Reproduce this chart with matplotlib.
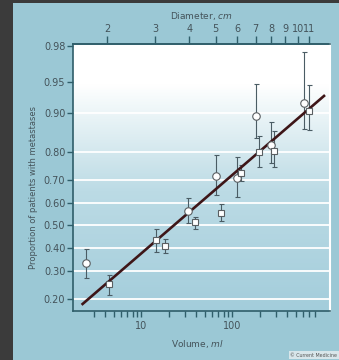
import numpy as np
import matplotlib
matplotlib.use("Agg")
import matplotlib.pyplot as plt
from matplotlib.ticker import FixedLocator, FixedFormatter, NullLocator, NullFormatter
from matplotlib.patches import Rectangle
from matplotlib.colors import LinearSegmentedColormap
from statistics import NormalDist
import math

# ---------------- data ----------------
circle_volume = [2.44, 32.7, 65.9, 111, 180, 263, 615]
circle_prop   = [0.333, 0.564, 0.714, 0.705, 0.895, 0.821, 0.920]
circle_lo     = [0.273, 0.510, 0.636, 0.626, 0.841, 0.761, 0.864]
circle_hi     = [0.393, 0.622, 0.790, 0.782, 0.947, 0.882, 0.9765]

square_volume = [4.43, 14.4, 18.1, 38.7, 74.2, 124, 195.5, 288, 688]
square_prop   = [0.251, 0.433, 0.406, 0.515, 0.558, 0.727, 0.800, 0.804, 0.905]
square_lo     = [0.214, 0.382, 0.375, 0.483, 0.520, 0.694, 0.749, 0.749, 0.862]
square_hi     = [0.286, 0.483, 0.439, 0.540, 0.597, 0.755, 0.848, 0.861, 0.946]

fit_volume = [2.2, 1040]
fit_prop   = [0.182, 0.932]

y_ticks = [0.20, 0.30, 0.40, 0.50, 0.60, 0.70, 0.80, 0.90, 0.95, 0.98]
x_major = [10, 100]
x_minor = [3, 4, 5, 6, 7, 8, 9, 20, 30, 40, 50, 60, 70, 80, 90,
           200, 300, 400, 500, 600, 700, 800]
diam_ticks = [2, 3, 4, 5, 6, 7, 8, 9, 10, 11]

# ---------------- probit scale helpers ----------------
_nd = NormalDist()

def _ppf1(v):
    if not math.isfinite(v):
        return float("nan")
    v = min(max(v, 1e-9), 1 - 1e-9)
    return _nd.inv_cdf(v)

def _cdf1(v):
    if not math.isfinite(v):
        return float("nan")
    return 0.5 * (1.0 + math.erf(v / math.sqrt(2.0)))

_ppf_v = np.vectorize(_ppf1, otypes=[float])
_cdf_v = np.vectorize(_cdf1, otypes=[float])

def probit(p):
    return _ppf_v(np.asarray(p, dtype=float))

def inv_probit(z):
    return _cdf_v(np.asarray(z, dtype=float))

def vol_to_diam(v):
    v = np.asarray(v, dtype=float)
    return np.cbrt(6.0 * np.clip(v, 1e-12, None) / np.pi)

def diam_to_vol(d):
    d = np.asarray(d, dtype=float)
    return np.pi / 6.0 * d ** 3

# ---------------- figure ----------------
W, H = 339, 360
DPI = 100
bg = "#9bc8d5"
dark = "#3b3b3b"
spine_c = "#2f5e6a"
text_c = "#44535a"

fig = plt.figure(figsize=(W / DPI, H / DPI), dpi=DPI, facecolor=bg)
fig.patches.append(Rectangle((0, 0), 13 / W, 1, transform=fig.transFigure,
                             facecolor=dark, edgecolor="none", zorder=-10))
fig.patches.append(Rectangle((0, 1 - 3 / H), 1, 3 / H, transform=fig.transFigure,
                             facecolor=dark, edgecolor="none", zorder=-10))

left, right, top, bottom = 73, 330, 44, 311
pos = [left / W, 1 - bottom / H, (right - left) / W, (bottom - top) / H]

# gradient background axes
bax = fig.add_axes(pos, zorder=0)
cmap = LinearSegmentedColormap.from_list(
    "g", [(0.0, "#a3cddb"), (0.45, "#bcdbe5"), (0.72, "#e8f3f6"), (0.85, "#ffffff"), (1.0, "#ffffff")])
grad = np.linspace(0, 1, 256).reshape(-1, 1)
bax.imshow(grad, aspect="auto", cmap=cmap, origin="lower", extent=[0, 1, 0, 1])
bax.set_axis_off()

ax = fig.add_axes(pos, zorder=1)
ax.patch.set_alpha(0)
ax.set_xscale("log")
ax.set_yscale("function", functions=(probit, inv_probit))
ax.set_xlim(1.77, 1180)
ax.set_ylim(0.164, 0.981)

ax.yaxis.set_major_locator(FixedLocator(y_ticks))
ax.yaxis.set_major_formatter(FixedFormatter(["%.2f" % t for t in y_ticks]))
ax.yaxis.set_minor_locator(NullLocator())
ax.xaxis.set_major_locator(FixedLocator(x_major))
ax.xaxis.set_major_formatter(FixedFormatter([str(t) for t in x_major]))
ax.xaxis.set_minor_locator(FixedLocator(x_minor))
ax.xaxis.set_minor_formatter(NullFormatter())

ax.yaxis.grid(True, color="white", lw=1.3, zorder=0.5)
ax.set_axisbelow(True)

for s in ["left", "top", "bottom"]:
    ax.spines[s].set_color(spine_c)
    ax.spines[s].set_linewidth(1.2)
ax.spines["right"].set_color("white")
ax.spines["right"].set_linewidth(1.5)

ax.tick_params(axis="y", which="both", direction="out", length=4, width=1.0,
               color=spine_c, labelcolor=text_c, labelsize=7, pad=1.5)
ax.tick_params(axis="x", which="both", direction="out", length=4.2, width=1.0,
               color=spine_c, labelcolor=text_c, labelsize=7, pad=3)

# error bars
ecol = "#4a5c64"
ax.errorbar(circle_volume, circle_prop,
            yerr=[np.array(circle_prop) - np.array(circle_lo),
                  np.array(circle_hi) - np.array(circle_prop)],
            fmt="none", ecolor=ecol, elinewidth=0.8, capsize=1.8, capthick=0.8, zorder=2)
ax.errorbar(square_volume, square_prop,
            yerr=[np.array(square_prop) - np.array(square_lo),
                  np.array(square_hi) - np.array(square_prop)],
            fmt="none", ecolor=ecol, elinewidth=0.8, capsize=1.8, capthick=0.8, zorder=2)

# fitted line
ax.plot(fit_volume, fit_prop, color="#3e1618", lw=1.9, solid_capstyle="butt", zorder=3)

# markers
ax.plot(circle_volume, circle_prop, linestyle="none", marker="o", ms=5.4,
        mfc="white", mec="#5a5f62", mew=0.8, zorder=4)
ax.plot(square_volume, square_prop, linestyle="none", marker="s", ms=4.6,
        mfc="white", mec="#5a5f62", mew=0.8, zorder=4)

ax.set_xlabel("Volume, $\\it{ml}$", fontsize=6.5, color=text_c)
ax.xaxis.set_label_coords(0.486, -0.101)
ax.set_ylabel("Proportion of patients with metastases", fontsize=6, color=text_c)
ax.yaxis.set_label_coords(-0.137, 0.464)

# top diameter axis
sec = ax.secondary_xaxis("top", functions=(vol_to_diam, diam_to_vol))
sec.xaxis.set_major_locator(FixedLocator(diam_ticks))
sec.xaxis.set_major_formatter(FixedFormatter([str(t) for t in diam_ticks]))
sec.xaxis.set_minor_locator(NullLocator())
sec.tick_params(axis="x", direction="out", length=6, width=1.0, color=spine_c,
                labelcolor=text_c, labelsize=7, pad=1.5)
sec.spines["top"].set_color(spine_c)
sec.spines["top"].set_linewidth(1.2)
sec.set_xlabel("Diameter, $\\it{cm}$", fontsize=6.5, color=text_c, labelpad=3)

fig.text(0.995, 0.006, "\u00a9 Current Medicine", fontsize=3.4, color="#555555",
         ha="right", va="bottom",
         bbox=dict(boxstyle="square,pad=0.3", facecolor="#d8e6ea", edgecolor="none"))

fig.savefig("out.png", dpi=DPI, facecolor=fig.get_facecolor())
